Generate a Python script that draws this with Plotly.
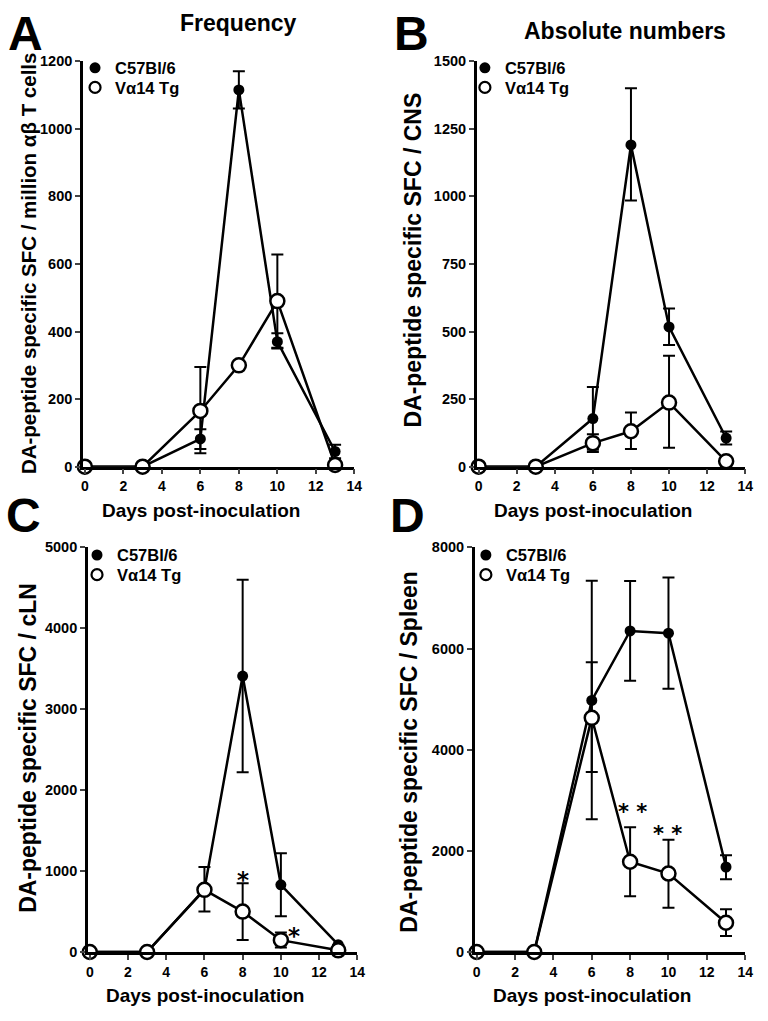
import plotly.graph_objects as go

# ---------------- data ----------------
days = [0, 3, 6, 8, 10, 13]
x_ticks = [0, 2, 4, 6, 8, 10, 12, 14]
series_names = ["C57Bl/6", "V\u03b114 Tg"]

# Panel A - Frequency (SFC / million ab T cells)
a_wt = [0, 0, 82, 1115, 370, 45]
a_wt_up = [0, 0, 29, 55, 25, 20]
a_wt_lo = [0, 0, 30, 55, 20, 20]
a_tg = [0, 0, 165, 300, 490, 5]
a_tg_up = [0, 0, 130, 0, 138, 0]
a_tg_lo = [0, 0, 125, 0, 138, 0]
a_yticks = [0, 200, 400, 600, 800, 1000, 1200]

# Panel B - Absolute numbers CNS
b_wt = [0, 0, 178, 1190, 517, 106]
b_wt_up = [0, 0, 117, 210, 68, 24]
b_wt_lo = [0, 0, 115, 205, 67, 24]
b_tg = [0, 0, 87, 131, 237, 20]
b_tg_up = [0, 0, 33, 69, 173, 0]
b_tg_lo = [0, 0, 33, 66, 167, 0]
b_yticks = [0, 250, 500, 750, 1000, 1250, 1500]

# Panel C - cLN
c_wt = [0, 0, 775, 3410, 830, 90]
c_wt_up = [0, 0, 275, 1190, 390, 0]
c_wt_lo = [0, 0, 275, 1190, 390, 0]
c_tg = [0, 0, 768, 499, 146, 20]
c_tg_up = [0, 0, 0, 350, 95, 0]
c_tg_lo = [0, 0, 0, 350, 90, 0]
c_yticks = [0, 1000, 2000, 3000, 4000, 5000]

# Panel D - Spleen
d_wt = [0, 0, 4975, 6348, 6304, 1680]
d_wt_up = [0, 0, 2365, 990, 1100, 235]
d_wt_lo = [0, 0, 2350, 985, 1100, 240]
d_tg = [0, 0, 4630, 1784, 1551, 578]
d_tg_up = [0, 0, 1100, 680, 667, 265]
d_tg_lo = [0, 0, 1070, 680, 676, 260]
d_yticks = [0, 2000, 4000, 6000, 8000]

y_titles = [
    "DA-peptide specific SFC / million \u03b1\u03b2 T cells",
    "DA-peptide specific SFC / CNS",
    "DA-peptide specific SFC / cLN",
    "DA-peptide specific SFC / Spleen",
]
x_title = "Days post-inoculation"
panel_letters = ["A", "B", "C", "D"]
panel_heads = ["Frequency", "Absolute numbers"]

# significance marks (x in days, y in data units of the panel)
stars_c = [(8.0, 890, "*"), (10.68, 200, "*")]
stars_d = [(8.15, 2760, "* *"), (9.95, 2330, "* *")]

# ---------------- layout helpers ----------------
W, H = 768, 1021
FONT = "Liberation Sans, Arial, sans-serif"


def px(x):
    return x / W


def py(y):
    return 1 - y / H


panels = [
    dict(wt=a_wt, wtu=a_wt_up, wtl=a_wt_lo, tg=a_tg, tgu=a_tg_up, tgl=a_tg_lo,
         yt=a_yticks, box=(82, 357, 54, 466),
         leg=(97, 61, 81), ytl=(27.5, 259, 20.5)),
    dict(wt=b_wt, wtu=b_wt_up, wtl=b_wt_lo, tg=b_tg, tgu=b_tg_up, tgl=b_tg_lo,
         yt=b_yticks, box=(481, 753, 54, 466),
         leg=(492, 61, 81), ytl=(416, 256, 23)),
    dict(wt=c_wt, wtu=c_wt_up, wtl=c_wt_lo, tg=c_tg, tgu=c_tg_up, tgl=c_tg_lo,
         yt=c_yticks, box=(87, 360, 548, 959),
         leg=(99, 556, 576), ytl=(27, 752, 23)),
    dict(wt=d_wt, wtu=d_wt_up, wtl=d_wt_lo, tg=d_tg, tgu=d_tg_up, tgl=d_tg_lo,
         yt=d_yticks, box=(479, 753, 548, 959),
         leg=(493, 556, 576), ytl=(413, 756, 23)),
]

fig = go.Figure()
layout = dict(
    width=W, height=H, margin=dict(l=0, r=0, t=0, b=0),
    paper_bgcolor="white", plot_bgcolor="white",
    font=dict(family=FONT, color="black"),
    annotations=[], showlegend=True,
)

leg_idx = 0
for i, p in enumerate(panels):
    n = "" if i == 0 else str(i + 1)
    xa, ya = "x" + n, "y" + n
    x0, x1, y0, y1 = p["box"]
    err = dict(type="data", symmetric=False, color="black", thickness=2, width=6)
    fig.add_trace(go.Scatter(
        x=days, y=p["wt"], xaxis=xa, yaxis=ya, mode="lines+markers",
        line=dict(color="black", width=2.5),
        marker=dict(symbol="circle", size=11, color="black"),
        error_y=dict(err, array=p["wtu"], arrayminus=p["wtl"]),
        cliponaxis=False, showlegend=False, name=series_names[0]))
    fig.add_trace(go.Scatter(
        x=days, y=p["tg"], xaxis=xa, yaxis=ya, mode="lines+markers",
        line=dict(color="black", width=2.5),
        marker=dict(symbol="circle", size=14, color="white",
                    line=dict(color="black", width=2.5)),
        error_y=dict(err, array=p["tgu"], arrayminus=p["tgl"]),
        cliponaxis=False, showlegend=False, name=series_names[1]))

    # legend entries: one single-row legend per series so rows sit tight
    mx, r1, r2 = p["leg"]
    styles = [
        dict(symbol="circle", size=11, color="black"),
        dict(symbol="circle", size=11, color="white",
             line=dict(color="black", width=2.2)),
    ]
    for k, (nm, ry) in enumerate(zip(series_names, (r1, r2))):
        leg_idx += 1
        lg = "legend" if leg_idx == 1 else "legend%d" % leg_idx
        fig.add_trace(go.Scatter(
            x=[None], y=[None], xaxis=xa, yaxis=ya, mode="markers",
            marker=styles[k], name=nm, legend=lg))
        layout[lg] = dict(
            x=px(mx - 23), y=py(ry), xanchor="left", yanchor="middle",
            bgcolor="rgba(0,0,0,0)", borderwidth=0, tracegroupgap=0,
            itemwidth=30, font=dict(size=16.5, weight="bold", family=FONT))

    layout["xaxis" + n] = dict(
        domain=[px(x0), px(x1)], anchor=ya, range=[-0.1, 14],
        tickvals=x_ticks, ticks="outside", ticklen=5, tickwidth=2,
        showline=True, linewidth=2.5, linecolor="black", showgrid=False,
        zeroline=False, tickfont=dict(size=14, weight="bold"))
    layout["yaxis" + n] = dict(
        domain=[py(y1), py(y0)], anchor=xa, range=[0, p["yt"][-1]],
        tickvals=p["yt"], ticks="outside", ticklen=5, tickwidth=2,
        showline=True, linewidth=2.5, linecolor="black", showgrid=False,
        zeroline=False, tickfont=dict(size=14.5, weight="bold"))

    # y title
    tx, ty, ts = p["ytl"]
    layout["annotations"].append(dict(
        text=y_titles[i], xref="paper", yref="paper",
        x=px(tx), y=py(ty), textangle=-90,
        showarrow=False, font=dict(size=ts, weight="bold"),
        xanchor="center", yanchor="middle"))
    # x title
    layout["annotations"].append(dict(
        text=x_title, xref="paper", yref="paper",
        x=px((x0 + x1) / 2 - 18), y=py(y1 + 44), showarrow=False,
        font=dict(size=19, weight="bold"), xanchor="center", yanchor="middle"))

# panel letters
letter_pos = [(24, 26), (415, 26), (22, 516), (411, 516)]
for letter, (lx, ly) in zip(panel_letters, letter_pos):
    layout["annotations"].append(dict(
        text=letter, xref="paper", yref="paper", x=px(lx), y=py(ly),
        showarrow=False, font=dict(size=48, weight="bold"),
        xanchor="center", yanchor="middle"))

# headings
layout["annotations"].append(dict(
    text=panel_heads[0], xref="paper", yref="paper", x=px(240), y=py(15),
    showarrow=False, font=dict(size=23, weight="bold"),
    xanchor="center", yanchor="middle"))
layout["annotations"].append(dict(
    text=panel_heads[1], xref="paper", yref="paper", x=px(631), y=py(23),
    showarrow=False, font=dict(size=23, weight="bold"),
    xanchor="center", yanchor="middle"))

# stars
star_font = dict(size=23, family="DejaVu Sans", color="#000000", weight="bold")
for sx, sy, st in stars_c:
    layout["annotations"].append(dict(
        text=st, xref="x3", yref="y3", x=sx, y=sy, showarrow=False,
        font=star_font, xanchor="center", yanchor="middle"))
for sx, sy, st in stars_d:
    layout["annotations"].append(dict(
        text=st, xref="x4", yref="y4", x=sx, y=sy, showarrow=False,
        font=dict(star_font, size=21), xanchor="center", yanchor="middle"))

fig.update_layout(**layout)
fig.write_html(
    "out.html",
    config={"displayModeBar": False},
    post_script="document.body.style.margin='0';document.body.style.overflow='hidden';",
)
